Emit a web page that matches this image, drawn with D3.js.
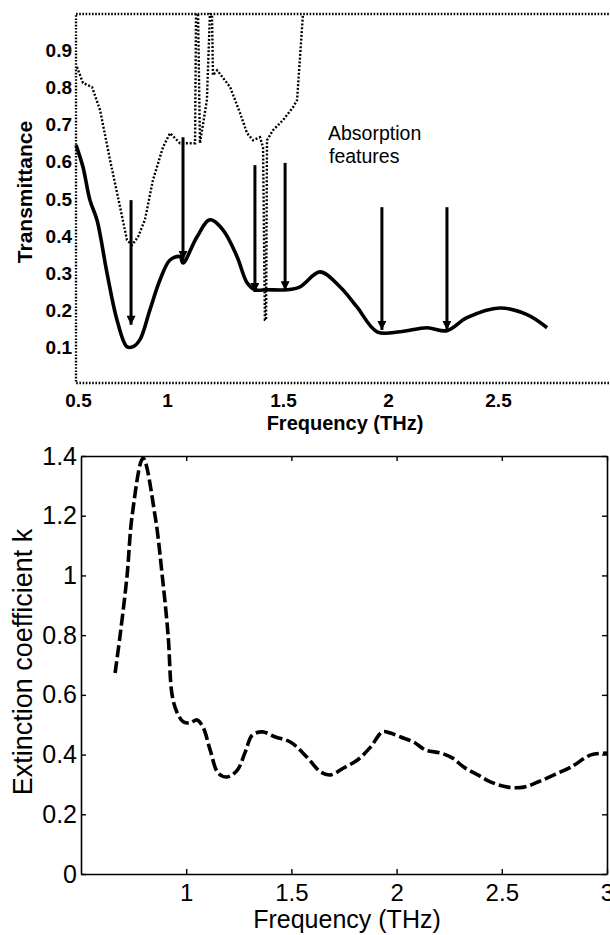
<!DOCTYPE html>
<html>
<head>
<meta charset="utf-8">
<script src="https://cdn.jsdelivr.net/npm/d3@7"></script>
<style>
  body { margin: 0; background: #fff; }
  svg { display: block; }
  text { font-family: "Liberation Sans", Arial, Helvetica, sans-serif; fill: #000; }
</style>
</head>
<body>
<div id="viz"></div>
<script>
// top panel: transmittance vs frequency (THz)
var topTicksX = [0.5, 1, 1.5, 2, 2.5];
var topTicksY = [0.1, 0.2, 0.3, 0.4, 0.5, 0.6, 0.7, 0.8, 0.9];

var sampleFreq = [0.489, 0.528, 0.567, 0.607, 0.663, 0.719, 0.775, 0.809, 0.848, 0.904, 0.961, 1.013,
  1.056, 1.069, 1.129, 1.185, 1.241, 1.302, 1.345, 1.379, 1.431, 1.519, 1.581, 1.676, 1.771, 1.852,
  1.948, 2.055, 2.177, 2.268, 2.359, 2.509, 2.632, 2.723];
var sampleTrans = [0.645, 0.586, 0.497, 0.443, 0.301, 0.175, 0.103, 0.103, 0.122, 0.202, 0.283, 0.336,
  0.345, 0.328, 0.398, 0.444, 0.417, 0.345, 0.275, 0.256, 0.256, 0.256, 0.264, 0.304, 0.264, 0.210,
  0.143, 0.143, 0.154, 0.146, 0.181, 0.207, 0.189, 0.154];

var refFreq = [0.494, 0.528, 0.579, 0.624, 0.680, 0.736, 0.775, 0.803, 0.837, 0.876, 0.921, 0.978,
  1.013, 1.056, 1.099, 1.121, 1.125, 1.134, 1.142, 1.172, 1.185, 1.194, 1.198, 1.216, 1.272, 1.315,
  1.345, 1.371, 1.401, 1.414, 1.422, 1.427, 1.431, 1.457, 1.500, 1.548, 1.567, 1.595];
var refTrans = [0.855, 0.812, 0.801, 0.739, 0.605, 0.479, 0.390, 0.376, 0.398, 0.444, 0.551, 0.640,
  0.677, 0.650, 0.650, 0.650, 0.997, 0.997, 0.650, 0.766, 0.997, 0.997, 0.833, 0.846, 0.801, 0.731,
  0.677, 0.658, 0.666, 0.639, 0.175, 0.175, 0.658, 0.685, 0.712, 0.747, 0.766, 0.997];

// absorption feature arrows
var arrowFreq = [0.798, 1.069, 1.379, 1.510, 1.971, 2.268];
var arrowFrom = [0.497, 0.666, 0.591, 0.597, 0.478, 0.478];
var arrowTo = [0.162, 0.336, 0.250, 0.255, 0.148, 0.148];

// bottom panel: extinction coefficient k
var kTicksX = [1, 1.5, 2, 2.5, 3];
var kTicksY = [0, 0.2, 0.4, 0.6, 0.8, 1, 1.2, 1.4];
var kFreq = [0.662, 0.686, 0.719, 0.743, 0.795, 0.852, 0.886, 0.914, 0.933, 0.957, 0.986, 1.019, 1.052,
  1.081, 1.114, 1.152, 1.195, 1.243, 1.281, 1.314, 1.362, 1.424, 1.495, 1.576, 1.638, 1.686, 1.748,
  1.814, 1.876, 1.933, 1.971, 2.019, 2.081, 2.138, 2.210, 2.267, 2.319, 2.386, 2.448, 2.529, 2.605,
  2.671, 2.748, 2.829, 2.924, 3.005];
var kVals = [0.673, 0.80, 1.0, 1.2, 1.393, 1.2, 1.0, 0.8, 0.6, 0.54, 0.51, 0.506, 0.516,
  0.49, 0.415, 0.338, 0.325, 0.348, 0.409, 0.465, 0.476, 0.459, 0.442, 0.39, 0.342, 0.332, 0.355,
  0.382, 0.425, 0.476, 0.472, 0.459, 0.442, 0.415, 0.405, 0.388, 0.358, 0.332, 0.308, 0.291, 0.291,
  0.308, 0.332, 0.358, 0.399, 0.405];

var width = 610, height = 935;

var svg = d3.select("#viz").append("svg")
  .attr("width", width)
  .attr("height", height);

svg.append("defs").append("marker")
  .attr("id", "head")
  .attr("viewBox", "0 0 10 10")
  .attr("refX", 10).attr("refY", 5)
  .attr("markerWidth", 4.6).attr("markerHeight", 3)
  .attr("markerUnits", "strokeWidth")
  .attr("orient", "auto")
  .append("path")
    .attr("d", "M0,0 L10,5 L0,10 Z")
    .attr("fill", "#000");

// ---- top panel ----
var upper = { left: 76, top: 14, right: 614, bottom: 383 };

// tick labels in the scan are not evenly spaced, so the scale is piecewise
var x1 = d3.scaleLinear()
  .domain(topTicksX)
  .range([78, 167, 283, 388, 498]);

var y1 = d3.scaleLinear()
  .domain([0, 1])
  .range([385, 13]);

var g1 = svg.append("g");

g1.append("rect")
  .attr("x", upper.left).attr("y", upper.top)
  .attr("width", upper.right - upper.left).attr("height", upper.bottom - upper.top)
  .attr("fill", "none")
  .attr("stroke", "#000")
  .attr("stroke-width", 2.4)
  .attr("stroke-dasharray", "1.6,1.6");

var yAx1 = g1.append("g")
  .attr("transform", "translate(" + upper.left + ",0)")
  .call(d3.axisLeft(y1).tickValues(topTicksY).tickSize(0).tickPadding(4).tickFormat(d3.format(".1f")));
yAx1.select(".domain").remove();
yAx1.selectAll("text")
  .style("font-size", "19px").style("font-weight", "bold");

var xAx1 = g1.append("g")
  .attr("transform", "translate(0," + upper.bottom + ")")
  .call(d3.axisBottom(x1).tickValues(topTicksX).tickSize(0).tickPadding(11).tickFormat(d3.format("~g")));
xAx1.select(".domain").remove();
xAx1.selectAll("text")
  .style("font-size", "19px").style("font-weight", "bold");

var refLine = d3.line()
  .x(function(d) { return x1(d[0]); })
  .y(function(d) { return y1(d[1]); });

g1.append("path")
  .datum(d3.zip(refFreq, refTrans))
  .attr("d", refLine)
  .attr("fill", "none")
  .attr("stroke", "#000")
  .attr("stroke-width", 2.4)
  .attr("stroke-dasharray", "2,1.8");

var smooth = d3.line()
  .x(function(d) { return x1(d[0]); })
  .y(function(d) { return y1(d[1]); })
  .curve(d3.curveCatmullRom.alpha(0.5));

g1.append("path")
  .datum(d3.zip(sampleFreq, sampleTrans))
  .attr("d", smooth)
  .attr("fill", "none")
  .attr("stroke", "#000")
  .attr("stroke-width", 3.6)
  .attr("stroke-linejoin", "round");

g1.selectAll("line.arrow")
  .data(d3.range(arrowFreq.length))
  .enter().append("line")
    .attr("class", "arrow")
    .attr("x1", function(i) { return x1(arrowFreq[i]); })
    .attr("x2", function(i) { return x1(arrowFreq[i]); })
    .attr("y1", function(i) { return y1(arrowFrom[i]); })
    .attr("y2", function(i) { return y1(arrowTo[i]); })
    .attr("stroke", "#000")
    .attr("stroke-width", 3)
    .attr("marker-end", "url(#head)");

var note = g1.append("text")
  .attr("x", 328).attr("y", 140)
  .style("font-size", "19.5px");
note.append("tspan").attr("x", 328).text("Absorption");
note.append("tspan").attr("x", 329).attr("dy", 23).text("features");

g1.append("text")
  .attr("x", 345).attr("y", 430)
  .attr("text-anchor", "middle")
  .style("font-size", "20px").style("font-weight", "bold")
  .text("Frequency (THz)");

g1.append("text")
  .attr("transform", "translate(32,192) rotate(-90)")
  .attr("text-anchor", "middle")
  .style("font-size", "21px").style("font-weight", "bold")
  .text("Transmittance");

// ---- bottom panel ----
var lower = { left: 81, top: 456, right: 607, bottom: 874 };

var x2 = d3.scaleLinear().domain([0.5, 3]).range([lower.left, lower.right]);
var y2 = d3.scaleLinear().domain([0, 1.4]).range([lower.bottom, lower.top]);

var g2 = svg.append("g");

var fmt = d3.format("~g");

var xAx2 = g2.append("g")
  .attr("transform", "translate(0," + lower.bottom + ")")
  .call(d3.axisBottom(x2).tickValues(kTicksX).tickSizeInner(-5).tickSizeOuter(0).tickPadding(10).tickFormat(fmt));
g2.append("g")
  .attr("transform", "translate(0," + lower.top + ")")
  .call(d3.axisTop(x2).tickValues(kTicksX).tickSizeInner(-5).tickSizeOuter(0).tickFormat(""));
var yAx2 = g2.append("g")
  .attr("transform", "translate(" + lower.left + ",0)")
  .call(d3.axisLeft(y2).tickValues(kTicksY).tickSizeInner(-5).tickSizeOuter(0).tickPadding(4).tickFormat(fmt));
g2.append("g")
  .attr("transform", "translate(" + lower.right + ",0)")
  .call(d3.axisRight(y2).tickValues(kTicksY).tickSizeInner(-5).tickSizeOuter(0).tickFormat(""));

g2.selectAll(".domain").attr("stroke-width", 1.6);
g2.selectAll(".tick line").attr("stroke-width", 1.4);
xAx2.selectAll("text").style("font-size", "24px");
yAx2.selectAll("text").style("font-size", "25px");

var kLine = d3.line()
  .x(function(d) { return x2(d[0]); })
  .y(function(d) { return y2(d[1]); })
  .curve(d3.curveCatmullRom.alpha(0.5));

g2.append("path")
  .datum(d3.zip(kFreq, kVals))
  .attr("d", kLine)
  .attr("fill", "none")
  .attr("stroke", "#000")
  .attr("stroke-width", 3.6)
  .attr("stroke-dasharray", "12,4");

g2.append("text")
  .attr("x", 347).attr("y", 928)
  .attr("text-anchor", "middle")
  .style("font-size", "25px")
  .text("Frequency (THz)");

g2.append("text")
  .attr("transform", "translate(32,662) rotate(-90)")
  .attr("text-anchor", "middle")
  .style("font-size", "27px")
  .text("Extinction coefficient k");
</script>
</body>
</html>
